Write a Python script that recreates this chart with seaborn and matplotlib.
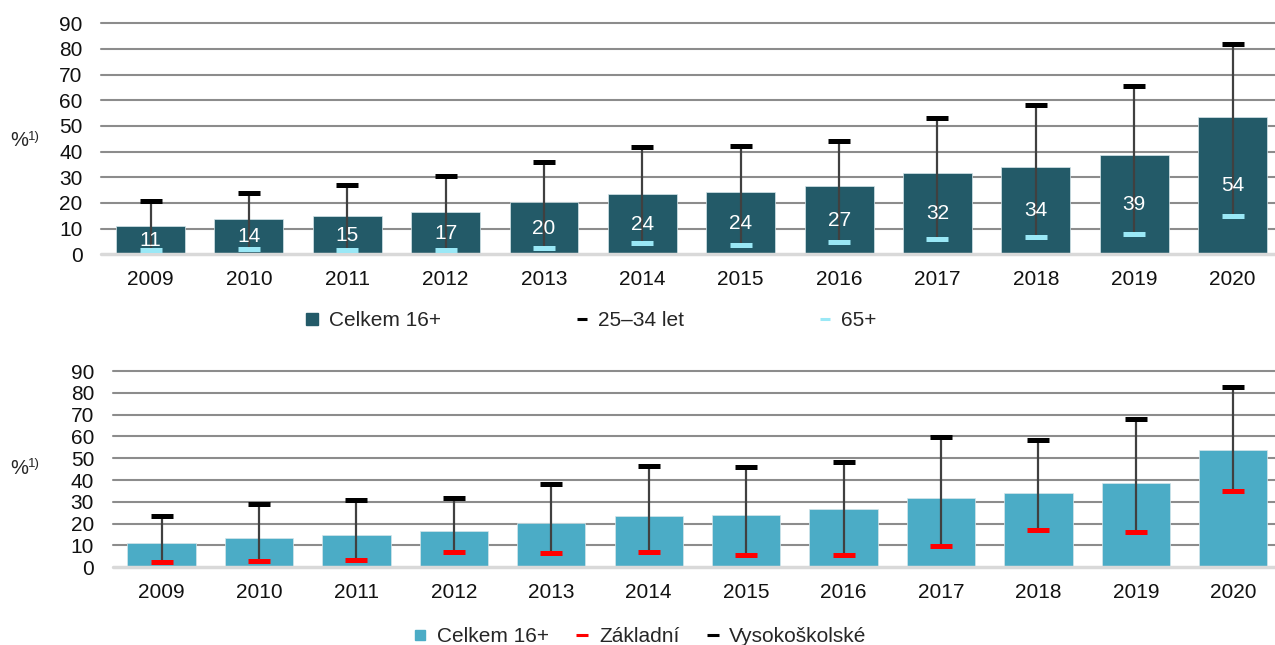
import numpy as np
import pandas as pd
import matplotlib
matplotlib.use("Agg")
import matplotlib.pyplot as plt
import seaborn as sns
from matplotlib.lines import Line2D

# data (%)
years = ["2009", "2010", "2011", "2012", "2013", "2014",
         "2015", "2016", "2017", "2018", "2019", "2020"]
celkem = [11.1, 13.6, 14.8, 16.6, 20.5, 23.6, 24.2, 26.7, 31.6, 34.2, 38.8, 53.6]
vek_25_34 = [20.8, 24.0, 27.0, 30.6, 36.0, 41.8, 42.1, 44.2, 53.1, 58.0, 65.4, 82.0]
vek_65 = [1.7, 2.0, 1.7, 1.7, 2.3, 4.5, 3.8, 4.9, 5.8, 6.7, 7.9, 14.8]
zakladni = [2.3, 2.8, 3.2, 6.9, 6.4, 6.9, 5.5, 5.5, 9.6, 17.0, 16.1, 34.9]
vysokoskolske = [23.4, 28.9, 30.8, 31.7, 38.1, 46.4, 45.9, 48.2, 59.7, 58.3, 67.9, 82.6]

DARK_TEAL = "#235a68"
AQUA = "#4bacc6"
LIGHT_CYAN = "#9ae8f6"
RED = "#ff0000"

sns.set_theme(style="white")
plt.rcParams["font.family"] = ["Liberation Sans", "DejaVu Sans"]

fig = plt.figure(figsize=(12.75, 6.45), dpi=100)
ax_top = fig.add_axes([0.0795, 0.6057, 0.9258, 0.3582])
ax_bot = fig.add_axes([0.0885, 0.1205, 0.9170, 0.3043])


def draw_panel(ax, bar_color, low, high, low_color, high_color):
    df = pd.DataFrame({"rok": years, "celkem": celkem})
    sns.barplot(data=df, x="rok", y="celkem", color=bar_color, saturation=1,
                width=0.7, ax=ax, zorder=2, edgecolor="#d6e6ea", linewidth=0.5)
    x = np.arange(len(years))
    # range line from the low group to the high group
    ax.vlines(x, low, high, color="#404040", lw=1.6, zorder=3)
    ax.plot(x, high, ls="none", marker="_", ms=15.8, mew=3.6,
            color=high_color, zorder=4)
    ax.plot(x, low, ls="none", marker="_", ms=15.8, mew=3.6,
            color=low_color, zorder=4)

    ax.set_xlim(-0.5, len(years) - 0.5)
    ax.set_ylim(0, 90)
    ax.set_yticks(range(0, 91, 10))
    ax.yaxis.grid(True, color="#8c8c8c", lw=1.5)
    ax.set_axisbelow(True)
    grid = ax.get_ygridlines()
    grid[0].set_visible(False)
    for g in grid:
        g.set_clip_on(False)
    ax.axhline(0, color="#d9d9d9", lw=2.5, zorder=2.5, clip_on=False)

    for s in ax.spines.values():
        s.set_visible(False)
    ax.set_xlabel("")
    ax.set_ylabel("")
    ax.tick_params(axis="y", length=0, labelsize=15, pad=13.5, labelcolor="#111111")
    ax.tick_params(axis="x", length=0, labelsize=15, pad=11, labelcolor="#111111")


draw_panel(ax_top, DARK_TEAL, vek_65, vek_25_34, LIGHT_CYAN, "black")
ax_top.bar_label(ax_top.containers[0], labels=[f"{v:.0f}" for v in celkem],
                 label_type="center", color="white", fontsize=15, zorder=5)

draw_panel(ax_bot, AQUA, zakladni, vysokoskolske, RED, "black")

# y axis captions "%1)"
for y in (1 - 141 / 645, 1 - 468 / 645):
    fig.text(10 / 1275, y, "%", fontsize=14.5, va="center", ha="left")
    fig.text(28 / 1275, y + 0.006, "1)", fontsize=9.5, va="center", ha="left")

# legends
top_handles = [
    Line2D([], [], ls="none", marker="s", ms=8, color=DARK_TEAL),
    Line2D([], [], ls="none", marker="_", ms=7.5, mew=2.2, color="black"),
    Line2D([], [], ls="none", marker="_", ms=7.5, mew=2.2, color=LIGHT_CYAN),
]
fig.legend(top_handles, ["Celkem 16+", "25\u201334 let", "65+"],
           loc="center left", bbox_to_anchor=(306 / 1275, 1 - 321 / 645),
           ncol=3, frameon=False, fontsize=15, handlelength=0.6,
           handletextpad=0.5, columnspacing=6.45, borderpad=0, borderaxespad=0)

bot_handles = [
    Line2D([], [], ls="none", marker="s", ms=7, color=AQUA),
    Line2D([], [], ls="none", marker="_", ms=8, mew=2.2, color=RED),
    Line2D([], [], ls="none", marker="_", ms=8, mew=2.2, color="black"),
]
fig.legend(bot_handles, ["Celkem 16+", "Základní", "Vysokoškolské"],
           loc="center left", bbox_to_anchor=(414 / 1275, 1 - 637 / 645),
           ncol=3, frameon=False, fontsize=15, handlelength=0.6,
           handletextpad=0.5, columnspacing=1.3, borderpad=0, borderaxespad=0)

fig.savefig("out.png", dpi=100)
